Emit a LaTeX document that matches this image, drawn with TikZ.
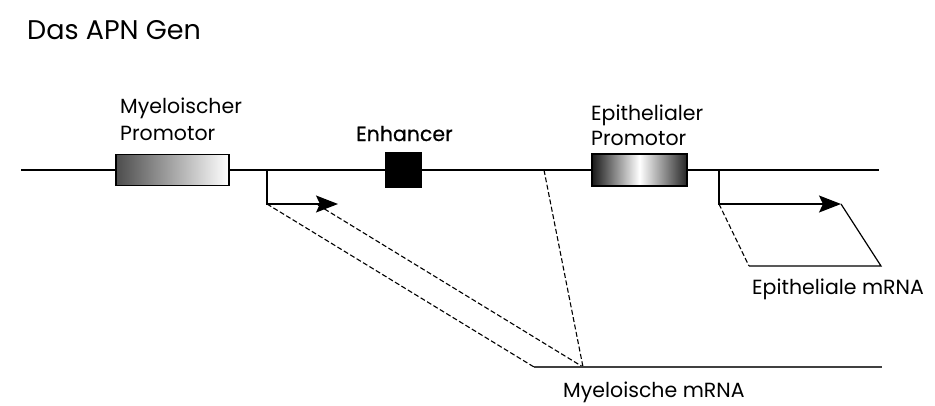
\documentclass[tikz,border=0pt]{standalone}
\usepackage{fontspec}
\setmainfont{Poppins}
\newfontfamily\medfont{Poppins}[FakeBold=0.6]
\usetikzlibrary{arrows.meta,shadings}
\begin{document}
\begin{tikzpicture}[x=1pt,y=-1pt,
  lbl/.style={inner sep=0pt, anchor=base west, font=\fontsize{20.5}{24}\selectfont},
  dna/.style={line width=1.2pt},
  dsh/.style={line width=1.1pt, dash pattern=on 5pt off 2.5pt},
  tip/.style={-{Stealth[length=22pt,width=17pt,inset=4pt]}},
  boxp/.style={draw=black, line width=1.2pt, inner sep=0pt}]
\useasboundingbox (0,0) rectangle (935,405);
% title
\node[lbl, font=\fontsize{27}{30}\selectfont] (title) at (27,39) {Das APN Gen};
% DNA line
\coordinate (L) at (21,170);
\coordinate (R) at (879,170);
\draw[dna] (L) -- (R);
% elements
\node[boxp, minimum width=113pt, minimum height=31pt, left color=black!70, right color=white] (mp) at (172.5,170) {};
\node[boxp, fill=black, minimum width=35pt, minimum height=34pt] (enh) at (403.5,170) {};
\node[boxp, minimum width=95pt, minimum height=32pt, left color=black!90, right color=black!85, middle color=white] (ep) at (639.5,170) {};
% labels
\node[lbl] (mpl1) at (120,113) {Myeloischer};
\node[lbl] (mpl2) at (120,140) {Promotor};
\node[lbl, font=\fontsize{20.5}{24}\medfont] (enhl) at (356,141) {Enhancer};
\node[lbl] (epl1) at (591,120) {Epithelialer};
\node[lbl] (epl2) at (591,145) {Promotor};
% myeloid transcript
\coordinate (m0) at (267,170);
\coordinate (m1) at (267,204);
\coordinate (mt) at (338,204);
\draw[dna, tip] (m0) -- (m1) -- (mt);
\coordinate (ma) at (318,205);
\coordinate (ms) at (534,367);
\coordinate (me) at (583,367);
\coordinate (mr) at (882,367);
\coordinate (ef) at (544,170);
\draw[dsh] (m1) -- (ms);
\draw[dsh] (ma) -- (me);
\draw[dsh] (ef) -- (me);
\draw[line width=1.5pt, black!75] (ms) -- (mr);
\node[lbl] (mrna1) at (563,397) {Myeloische mRNA};
% epithelial transcript
\coordinate (e0) at (719,170);
\coordinate (e1) at (719,204);
\coordinate (et) at (841,204);
\draw[dna, tip] (e0) -- (e1) -- (et);
\coordinate (e2) at (749,266);
\coordinate (e3) at (881,266);
\draw[dsh] (e1) -- (e2);
\draw[dna] (e2) -- (e3) -- (et);
\node[lbl] (mrna2) at (752,294) {Epitheliale mRNA};
\end{tikzpicture}
\end{document}
